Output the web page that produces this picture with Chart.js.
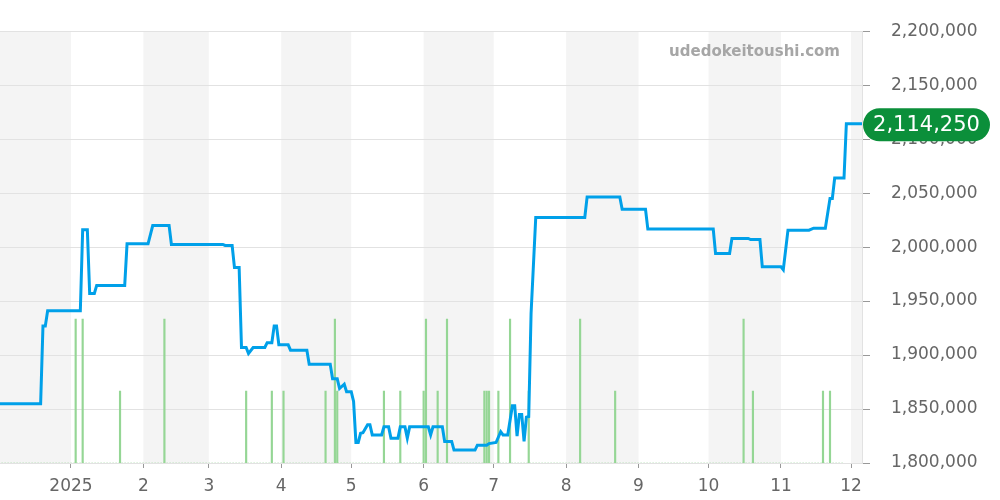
<!DOCTYPE html>
<html><head><meta charset="utf-8">
<script src="https://cdn.jsdelivr.net/npm/chart.js@4.4.1/dist/chart.umd.min.js"></script>
<style>html,body{margin:0;padding:0;background:#fff}#wrap{width:1000px;height:500px;position:relative}</style>
</head><body><div id="wrap"><canvas id="c" width="1000" height="500"></canvas></div>
<script>
const priceDates = ['2024-12-01','2024-12-19','2024-12-20','2024-12-21','2024-12-22','2025-01-05','2025-01-06','2025-01-08','2025-01-09','2025-01-11','2025-01-12','2025-01-24','2025-01-25','2025-02-03','2025-02-05','2025-02-12','2025-02-13','2025-03-07','2025-03-08','2025-03-11','2025-03-12','2025-03-14','2025-03-15','2025-03-17','2025-03-18','2025-03-20','2025-03-25','2025-03-26','2025-03-28','2025-03-29','2025-03-30','2025-03-31','2025-04-04','2025-04-05','2025-04-12','2025-04-13','2025-04-22','2025-04-23','2025-04-25','2025-04-26','2025-04-28','2025-04-29','2025-05-01','2025-05-02','2025-05-03','2025-05-04','2025-05-05','2025-05-06','2025-05-08','2025-05-09','2025-05-10','2025-05-14','2025-05-15','2025-05-17','2025-05-18','2025-05-21','2025-05-22','2025-05-24','2025-05-25','2025-05-26','2025-06-03','2025-06-04','2025-06-05','2025-06-09','2025-06-10','2025-06-13','2025-06-14','2025-06-23','2025-06-24','2025-06-28','2025-06-29','2025-07-02','2025-07-04','2025-07-05','2025-07-07','2025-07-09','2025-07-10','2025-07-11','2025-07-12','2025-07-13','2025-07-14','2025-07-15','2025-07-16','2025-07-17','2025-07-19','2025-08-09','2025-08-10','2025-08-24','2025-08-25','2025-09-04','2025-09-05','2025-10-03','2025-10-04','2025-10-10','2025-10-11','2025-10-18','2025-10-19','2025-10-23','2025-10-24','2025-11-01','2025-11-02','2025-11-04','2025-11-13','2025-11-15','2025-11-20','2025-11-22','2025-11-23','2025-11-24','2025-11-28','2025-11-29','2025-12-06'];
const priceValues = [1855000,1855000,1927000,1927000,1941000,1941000,2016000,2016000,1957000,1957000,1964500,1964500,2003000,2003000,2020000,2020000,2002500,2002500,2001500,2001500,1981000,1981000,1907000,1907000,1901500,1907000,1907000,1911500,1911500,1927000,1927000,1909500,1909500,1904500,1904500,1891500,1891500,1878000,1878000,1869000,1873000,1866000,1866000,1857000,1819000,1819000,1827500,1828000,1835500,1835500,1826000,1826000,1833500,1833500,1823000,1823000,1833500,1833500,1823000,1833500,1833500,1826000,1833500,1833500,1820000,1820000,1812000,1812000,1816500,1816500,1818000,1819000,1829000,1826000,1826000,1853000,1853000,1825000,1845000,1845000,1820000,1842500,1843000,1938500,2027500,2027500,2046500,2046500,2035000,2035000,2016700,2016700,1994000,1994000,2008000,2008000,2007000,2007000,1981800,1981800,1979000,2015700,2015700,2017500,2017500,2045000,2045000,2064000,2064000,2114250,2114250];
const volumeDates = ['2025-01-03','2025-01-06','2025-01-22','2025-02-10','2025-03-17','2025-03-28','2025-04-02','2025-04-20','2025-04-24','2025-04-25','2025-05-15','2025-05-22','2025-06-01','2025-06-02','2025-06-07','2025-06-11','2025-06-27','2025-06-28','2025-06-29','2025-07-03','2025-07-08','2025-07-16','2025-08-07','2025-08-22','2025-10-16','2025-10-20','2025-11-19','2025-11-22'];
const volumeValues = [2,2,1,2,1,1,1,1,2,1,1,1,1,2,1,2,1,1,1,1,2,1,2,1,2,1,1,1];
const volumeBaseDates = ['2024-12-01','2025-11-28'];
const monthTickDates = ['2025-01-01','2025-02-01','2025-03-01','2025-04-01','2025-05-01','2025-06-01','2025-07-01','2025-08-01','2025-09-01','2025-10-01','2025-11-01','2025-12-01'];
const monthTickLabels = ['2025','2','3','4','5','6','7','8','9','10','11','12'];
const bandStartDates = ['2024-12-01','2025-01-01','2025-02-01','2025-03-01','2025-04-01','2025-05-01','2025-06-01','2025-07-01','2025-08-01','2025-09-01','2025-10-01','2025-11-01','2025-12-01','2026-01-01'];
const lastPriceText = '2,114,250';
const watermarkText = 'udedokeitoushi.com';

const dayOf = s => (Date.UTC(+s.slice(0,4), +s.slice(5,7)-1, +s.slice(8,10)) - Date.UTC(2025,0,1)) / 86400000;
const FONT = "'DejaVu Sans', sans-serif";

const bandsPlugin = {
  id: 'bands',
  beforeDraw(chart) {
    const {ctx, chartArea: a, scales: {x}} = chart;
    ctx.save();
    ctx.beginPath(); ctx.rect(a.left, a.top, a.right - a.left, a.bottom - a.top); ctx.clip();
    ctx.fillStyle = '#f4f4f4';
    for (let i = 0; i < bandStartDates.length - 1; i += 2) {
      const x0 = x.getPixelForValue(dayOf(bandStartDates[i]));
      const x1 = x.getPixelForValue(dayOf(bandStartDates[i + 1]));
      ctx.fillRect(x0, a.top, x1 - x0, a.bottom - a.top);
    }
    ctx.restore();
  },
  afterDatasetsDraw(chart) {
    const {ctx} = chart;
    ctx.save();
    ctx.font = "bold 15px " + FONT;
    ctx.fillStyle = '#a6a6a6';
    ctx.textAlign = 'right';
    ctx.textBaseline = 'middle';
    ctx.fillText(watermarkText, 840, 52);
    ctx.restore();
  },
  afterDraw(chart) {
    const {ctx, scales: {y}} = chart;
    const yc = y.getPixelForValue(priceValues[priceValues.length - 1]) + 1;
    const x0 = 863, x1 = 990, h = 33, r = h / 2;
    ctx.save();
    ctx.fillStyle = '#0b8f3a';
    ctx.beginPath();
    ctx.moveTo(x0 + r, yc - r);
    ctx.lineTo(x1 - r, yc - r);
    ctx.arc(x1 - r, yc, r, -Math.PI / 2, Math.PI / 2);
    ctx.lineTo(x0 + r, yc + r);
    ctx.arc(x0 + r, yc, r, Math.PI / 2, Math.PI * 1.5);
    ctx.closePath();
    ctx.fill();
    ctx.fillStyle = '#ffffff';
    ctx.font = "21px " + FONT;
    ctx.textAlign = 'center';
    ctx.textBaseline = 'middle';
    ctx.fillText(lastPriceText, (x0 + x1) / 2, yc + 1);
    ctx.restore();
  }
};

new Chart(document.getElementById('c'), {
  data: {
    datasets: [
      {
        type: 'line',
        data: priceDates.map((d, i) => ({x: dayOf(d), y: priceValues[i]})),
        borderColor: '#00a0e9',
        borderWidth: 3,
        pointRadius: 0,
        tension: 0,
        yAxisID: 'y',
        order: 0
      },
      {
        type: 'bar',
        data: volumeDates.map((d, i) => ({x: dayOf(d), y: volumeValues[i]})),
        backgroundColor: '#95d695',
        barThickness: 1.5,
        yAxisID: 'y2',
        order: 2
      },
      {
        type: 'line',
        data: volumeBaseDates.map(d => ({x: dayOf(d), y: 0})),
        borderColor: '#98d698',
        borderWidth: 1,
        borderDash: [1, 2],
        pointRadius: 0,
        yAxisID: 'y2',
        order: 1
      }
    ]
  },
  options: {
    responsive: false,
    animation: false,
    devicePixelRatio: 1,
    layout: {padding: {top: 31, left: 0, right: 0, bottom: 0}},
    plugins: {legend: {display: false}, tooltip: {enabled: false}},
    scales: {
      x: {
        type: 'linear',
        min: -30.4,
        max: 338.7,
        offset: false,
        afterFit(s) { s.height = 37; },
        afterBuildTicks(s) { s.ticks = monthTickDates.map(d => ({value: dayOf(d)})); },
        ticks: {
          autoSkip: false, maxRotation: 0, padding: 8,
          color: '#666', font: {family: FONT, size: 17},
          callback: (v, i) => monthTickLabels[i]
        },
        grid: {offset: false, drawOnChartArea: false, drawTicks: true, tickLength: 5, color: '#999'},
        border: {display: false}
      },
      y: {
        position: 'right',
        min: 1800000, max: 2200000,
        afterFit(s) { s.width = 138; },
        ticks: {
          stepSize: 50000, padding: 21,
          color: '#666', font: {family: FONT, size: 17},
          callback: v => v.toLocaleString('en-US')
        },
        grid: {color: '#e2e2e2', tickLength: 8, tickColor: '#999'},
        border: {display: true, color: '#e2e2e2'}
      },
      y2: {
        display: false,
        min: 0, max: 6
      }
    }
  },
  plugins: [bandsPlugin]
});
</script>
</body></html>
